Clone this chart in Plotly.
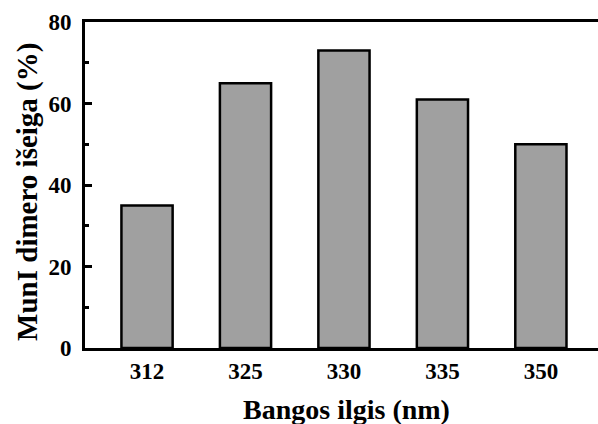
import plotly.graph_objects as go

categories = ["312", "325", "330", "335", "350"]
values = [35, 65, 73, 61, 50]
x_title = "Bangos ilgis (nm)"
y_title = "MunI dimero išeiga (%)"

font = "Liberation Serif"
fig = go.Figure()
fig.add_trace(go.Bar(
    x=list(range(len(categories))), y=values, width=0.52,
    marker=dict(color="#a0a0a0", line=dict(color="black", width=2.5)),
))
fig.update_layout(
    width=598, height=424,
    margin=dict(l=85, r=0, t=22, b=76),
    plot_bgcolor="white", paper_bgcolor="white",
    showlegend=False,
    font=dict(family=font, color="black"),
)
fig.update_xaxes(
    range=[-0.63, 4.58],
    tickmode="array", tickvals=list(range(len(categories))), ticktext=categories,
    showline=True, linecolor="black", linewidth=3, mirror=True,
    ticks="", showgrid=False, zeroline=False, ticklabelstandoff=0,
    tickfont=dict(family=font, size=23, color="black", weight="bold"),
)
fig.update_yaxes(
    range=[0, 80], tickvals=[0, 20, 40, 60, 80],
    showline=True, linecolor="black", linewidth=3,
    ticks="inside", ticklen=7, tickwidth=2.5, tickcolor="black",
    minor=dict(tickvals=[10, 30, 50, 70], ticks="inside", ticklen=4, tickwidth=2.5, tickcolor="black"),
    showgrid=False, zeroline=False, ticklabelstandoff=6,
    tickfont=dict(family=font, size=23, color="black", weight="bold"),
)
fig.add_annotation(text=f"<b>{x_title}</b>", xref="paper", yref="paper",
                   x=0.509, y=-0.19, xanchor="center", yanchor="middle",
                   showarrow=False, font=dict(family=font, size=28, color="black"))
fig.add_annotation(text=f"<b>{y_title}</b>", xref="paper", yref="paper",
                   x=-0.111, y=0.479, xanchor="center", yanchor="middle", textangle=-90,
                   showarrow=False, font=dict(family=font, size=29, color="black"))
fig.write_html("out.html")
